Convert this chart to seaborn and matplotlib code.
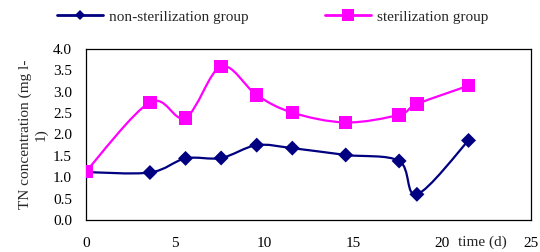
import numpy as np
import pandas as pd
import matplotlib
matplotlib.use("Agg")
import matplotlib.pyplot as plt
from matplotlib.path import Path
from matplotlib.patches import PathPatch
from matplotlib.lines import Line2D
from matplotlib.ticker import FormatStrFormatter
import seaborn as sns

# data
days = [0, 3.6, 5.6, 7.6, 9.6, 11.6, 14.6, 17.6, 18.6, 21.5]
non_sterilization = [1.12, 1.11, 1.44, 1.45, 1.75, 1.68, 1.52, 1.38, 0.60, 1.86]
sterilization = [1.13, 2.75, 2.39, 3.59, 2.92, 2.51, 2.28, 2.46, 2.71, 3.14]
series_names = ["non-sterilization group", "sterilization group"]
colors = {"non-sterilization group": "#000080", "sterilization group": "#FF00FF"}
markers = {"non-sterilization group": "D", "sterilization group": "s"}

df = pd.concat([
    pd.DataFrame({"day": days, "TN": non_sterilization, "group": series_names[0]}),
    pd.DataFrame({"day": days, "TN": sterilization, "group": series_names[1]}),
])

sns.set_style("white")
plt.rcParams["font.family"] = ["Liberation Serif", "DejaVu Serif"]
plt.rcParams["font.size"] = 11


def smooth_path(x, y):
    # excel-like smoothed line as cubic bezier segments
    pts = np.column_stack([x, y])
    n = len(pts)
    verts = [pts[0]]
    codes = [Path.MOVETO]
    for i in range(n - 1):
        p0 = pts[i - 1] if i > 0 else pts[i]
        p1 = pts[i]
        p2 = pts[i + 1]
        p3 = pts[i + 2] if i + 2 < n else pts[i + 1]
        c1 = p1 + (p2 - p0) / 6
        c2 = p2 - (p3 - p1) / 6
        verts += [c1, c2, p2]
        codes += [Path.CURVE4] * 3
    return Path(verts, codes)


fig = plt.figure(figsize=(5.4, 2.52), dpi=100)
ax = fig.add_axes([0.159, 0.127, 0.824, 0.679])

for name in series_names:
    sub = df[df["group"] == name]
    ax.add_patch(PathPatch(smooth_path(sub["day"].values, sub["TN"].values),
                           fill=False, edgecolor=colors[name], lw=1.6, zorder=2))

sns.scatterplot(data=df, x="day", y="TN", hue="group", style="group",
                palette=colors, markers=markers, ax=ax,
                legend=False, zorder=3, linewidth=0,
                size="group", sizes={series_names[0]: 58, series_names[1]: 95})

ax.set_xlim(0, 25)
ax.set_ylim(0, 4)
ax.set_xticks([0, 5, 10, 15, 20, 25])
ax.set_yticks(np.arange(0, 4.01, 0.5))
ax.yaxis.set_major_formatter(FormatStrFormatter("%.1f"))
ax.tick_params(direction="in", length=4, width=0.8, color="black",
               labelsize=11, labelcolor="black")
ax.tick_params(axis="x", pad=12)
ax.tick_params(axis="y", pad=10)
ax.set_xlabel("")
ax.set_ylabel("TN concentration (mg l-\n1)", fontsize=11, labelpad=4)
ax.text(0.891, -0.133, "time (d)", transform=ax.transAxes, ha="center",
        va="center", fontsize=11)
for sp in ax.spines.values():
    sp.set_color("black")
    sp.set_linewidth(0.9)

handles = [Line2D([], [], color=colors[n], marker=markers[n], lw=2,
                  markersize=5.5 if markers[n] == "D" else 9, markeredgewidth=0)
           for n in series_names]
fig.legend(handles, series_names, loc="center left", bbox_to_anchor=(0.094, 0.933),
           ncol=2, frameon=False, handlelength=3.0, handletextpad=0.4,
           columnspacing=5.0, borderaxespad=0, fontsize=11)

fig.savefig("out.png", dpi=100, facecolor="white")
